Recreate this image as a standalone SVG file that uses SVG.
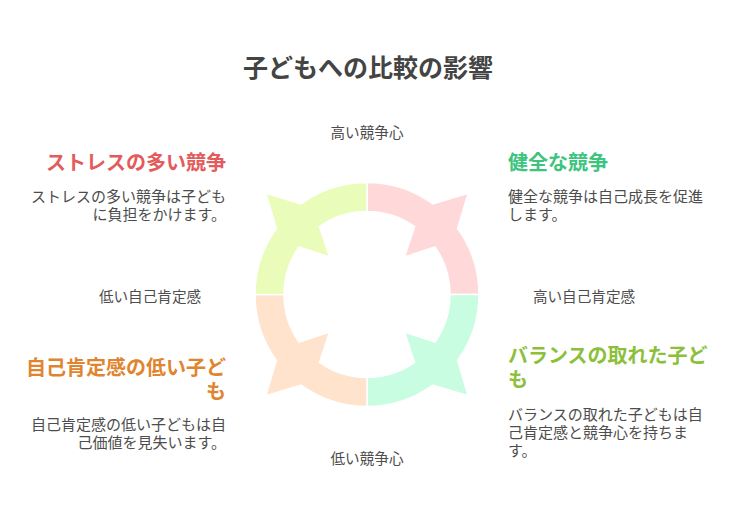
<svg xmlns="http://www.w3.org/2000/svg" xmlns:xlink="http://www.w3.org/1999/xlink" width="735" height="518" viewBox="0 0 735 518">
<style>
text{font-family:"Noto Sans CJK JP","Noto Sans",sans-serif}
.title{font-size:25px;font-weight:700;fill:#444}
.h{font-size:20px;font-weight:700}
.d{font-size:15px;fill:#4d4d4d}
.ax{font-size:14.6px;fill:#4d4d4d}
.seg{stroke:#fff;stroke-width:1.5;stroke-linejoin:miter}
</style>
<defs>
<path id="seg" d="M 0,-112 A 112 112 0 0 1 65.83,-90.61 L 101.12,-101.12 L 90.61,-65.83 A 112 112 0 0 1 112,0 L 83,0 A 83 83 0 0 0 67.99,-47.61 L 37.48,-37.48 L 47.61,-67.99 A 83 83 0 0 0 0,-83 Z"/>
</defs>
<rect width="735" height="518" fill="#fff"/>
<text class="title" x="368" y="76.5" text-anchor="middle">子どもへの比較の影響</text>
<g id="ring">
<g id="seg-stress"><use xlink:href="#seg" class="seg" fill="#FFD9D9" transform="translate(367,294.5)"/></g>
<g id="seg-balanced"><use xlink:href="#seg" class="seg" fill="#C9FDE1" transform="translate(367,294.5) rotate(90)"/></g>
<g id="seg-lowesteem"><use xlink:href="#seg" class="seg" fill="#FFE3CC" transform="translate(367,294.5) rotate(180)"/></g>
<g id="seg-healthy"><use xlink:href="#seg" class="seg" fill="#EAFCBA" transform="translate(367,294.5) rotate(270)"/></g>
</g>
<g id="axis-labels">
<text class="ax" x="367" y="138" text-anchor="middle">高い競争心</text>
<text class="ax" x="150" y="301.5" text-anchor="middle">低い自己肯定感</text>
<text class="ax" x="584" y="301.5" text-anchor="middle">高い自己肯定感</text>
<text class="ax" x="367" y="463.5" text-anchor="middle">低い競争心</text>
</g>
<g id="node-stress">
<text class="h" x="226" y="170" text-anchor="end" fill="#E35B5B">ストレスの多い競争</text>
<text class="d" x="226" y="202" text-anchor="end">ストレスの多い競争は子ども</text>
<text class="d" x="226" y="220" text-anchor="end">に負担をかけます。</text>
</g>
<g id="node-healthy">
<text class="h" x="508" y="170" fill="#3DC47E">健全な競争</text>
<text class="d" x="508" y="202">健全な競争は自己成長を促進</text>
<text class="d" x="508" y="220">します。</text>
</g>
<g id="node-lowesteem">
<text class="h" x="226" y="375" text-anchor="end" fill="#E0852F">自己肯定感の低い子ど</text>
<text class="h" x="226" y="398.5" text-anchor="end" fill="#E0852F">も</text>
<text class="d" x="226" y="429.5" text-anchor="end">自己肯定感の低い子どもは自</text>
<text class="d" x="226" y="447.5" text-anchor="end">己価値を見失います。</text>
</g>
<g id="node-balanced">
<text class="h" x="508" y="363" fill="#8CBF3A">バランスの取れた子ど</text>
<text class="h" x="508" y="386.5" fill="#8CBF3A">も</text>
<text class="d" x="508" y="419.5">バランスの取れた子どもは自</text>
<text class="d" x="508" y="437.5">己肯定感と競争心を持ちま</text>
<text class="d" x="508" y="456">す。</text>
</g>
</svg>
